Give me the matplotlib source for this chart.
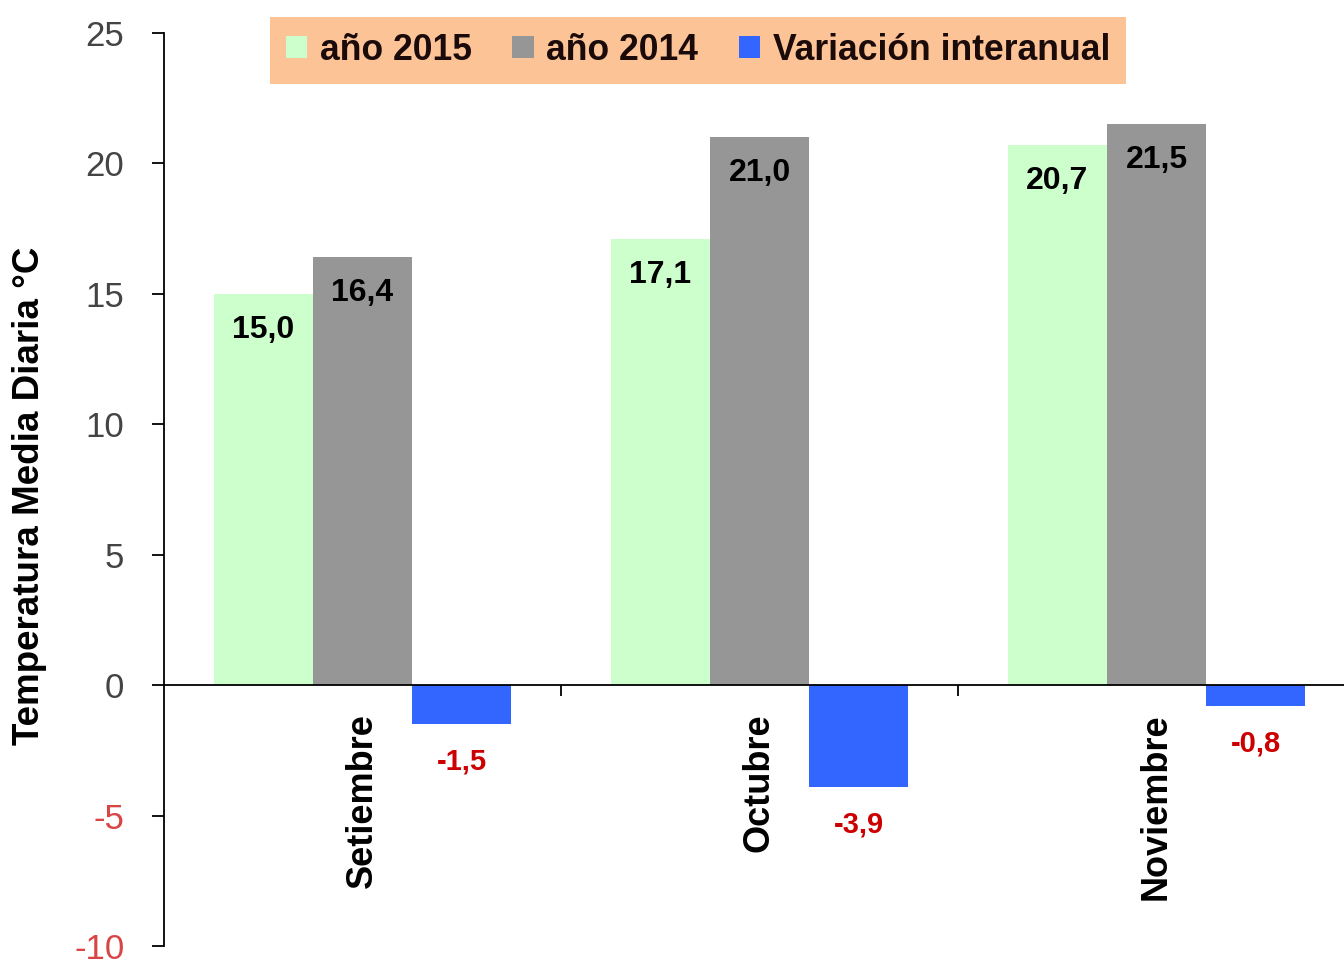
import matplotlib
matplotlib.use("Agg")
import matplotlib.pyplot as plt
from matplotlib.patches import Patch

plt.rcParams['font.family'] = ['Liberation Sans', 'DejaVu Sans']

months = ["Setiembre", "Octubre", "Noviembre"]
y2015 = [15.0, 17.1, 20.7]
y2014 = [16.4, 21.0, 21.5]
variacion = [-1.5, -3.9, -0.8]
series_names = ["año 2015", "año 2014", "Variación interanual"]
yticks = [-10, -5, 0, 5, 10, 15, 20, 25]

c_green = "#CCFFCC"
c_gray = "#969696"
c_blue = "#3366FF"
c_legend = "#FBC396"
c_red = "#CC0000"

W, H = 1344, 960
fig = plt.figure(figsize=(W / 100, H / 100), dpi=100)
left_px, right_px = 164, 1355
top_px, bot_px = 33, 946
ax = fig.add_axes([left_px / W, 1 - bot_px / H, (right_px - left_px) / W, (bot_px - top_px) / H])

bw = 0.25
xs = [i + 0.5 for i in range(len(months))]
b1 = ax.bar([x - bw for x in xs], y2015, width=bw, color=c_green, label=series_names[0])
b2 = ax.bar(xs, y2014, width=bw, color=c_gray, label=series_names[1])
b3 = ax.bar([x + bw for x in xs], variacion, width=bw, color=c_blue, label=series_names[2])

ax.set_xlim(0, 3)
ax.set_ylim(-10, 25)

def fmt(v):
    return f"{v:.1f}".replace(".", ",")

for bars, vals in ((b1, y2015), (b2, y2014)):
    for r, v in zip(bars, vals):
        ax.annotate(fmt(v), xy=(r.get_x() + r.get_width() / 2, v), xytext=(0, -26),
                    textcoords="offset points", ha="center", va="center",
                    fontsize=23, fontweight="bold", color="black")
for r, v in zip(b3, variacion):
    ax.annotate(fmt(v), xy=(r.get_x() + r.get_width() / 2, v), xytext=(0, -27),
                textcoords="offset points", ha="center", va="center",
                fontsize=21, fontweight="bold", color=c_red)

# spines
for s in ("top", "right"):
    ax.spines[s].set_visible(False)
ax.spines["bottom"].set_position(("data", 0))
ax.spines["left"].set_linewidth(1.3)
ax.spines["bottom"].set_linewidth(1.3)

ax.set_yticks(yticks)
ax.set_yticklabels([str(t) for t in yticks])
ax.tick_params(axis="y", direction="out", length=8.5, width=1.3, pad=20,
               labelsize=25, labelcolor="#444444")
for lab, t in zip(ax.get_yticklabels(), yticks):
    if t < 0:
        lab.set_color("#D84545")

ax.set_xticks([1, 2, 3])
ax.set_xticklabels([])
ax.tick_params(axis="x", direction="out", length=8, width=1.3)

for x, m in zip(xs, months):
    ax.annotate(m, xy=(x, 0), xytext=(0, -20.5), textcoords="offset points",
                rotation=90, ha="center", va="top", fontsize=26, fontweight="bold")

fig.text(30 / W, 1 - 496 / H, "Temperatura Media Diaria °C", rotation=90,
         ha="center", va="center", fontsize=26.5, fontweight="bold")

handles = [Patch(facecolor=c_green), Patch(facecolor=c_gray), Patch(facecolor=c_blue)]
leg = fig.legend(handles, series_names, loc="center", ncol=3,
                 bbox_to_anchor=(698 / W, 1 - 50 / H), fontsize=25.6,
                 frameon=True, fancybox=False, handlelength=0.6, handleheight=0.6,
                 handletextpad=0.35, columnspacing=1.15, borderpad=0.45,
                 borderaxespad=0)
leg.get_frame().set_facecolor(c_legend)
leg.get_frame().set_edgecolor("none")
leg.get_frame().set_alpha(1)
for t in leg.get_texts():
    t.set_fontweight("bold")
    t.set_color("#1a0a0a")

fig.savefig("out.png", dpi=100)
